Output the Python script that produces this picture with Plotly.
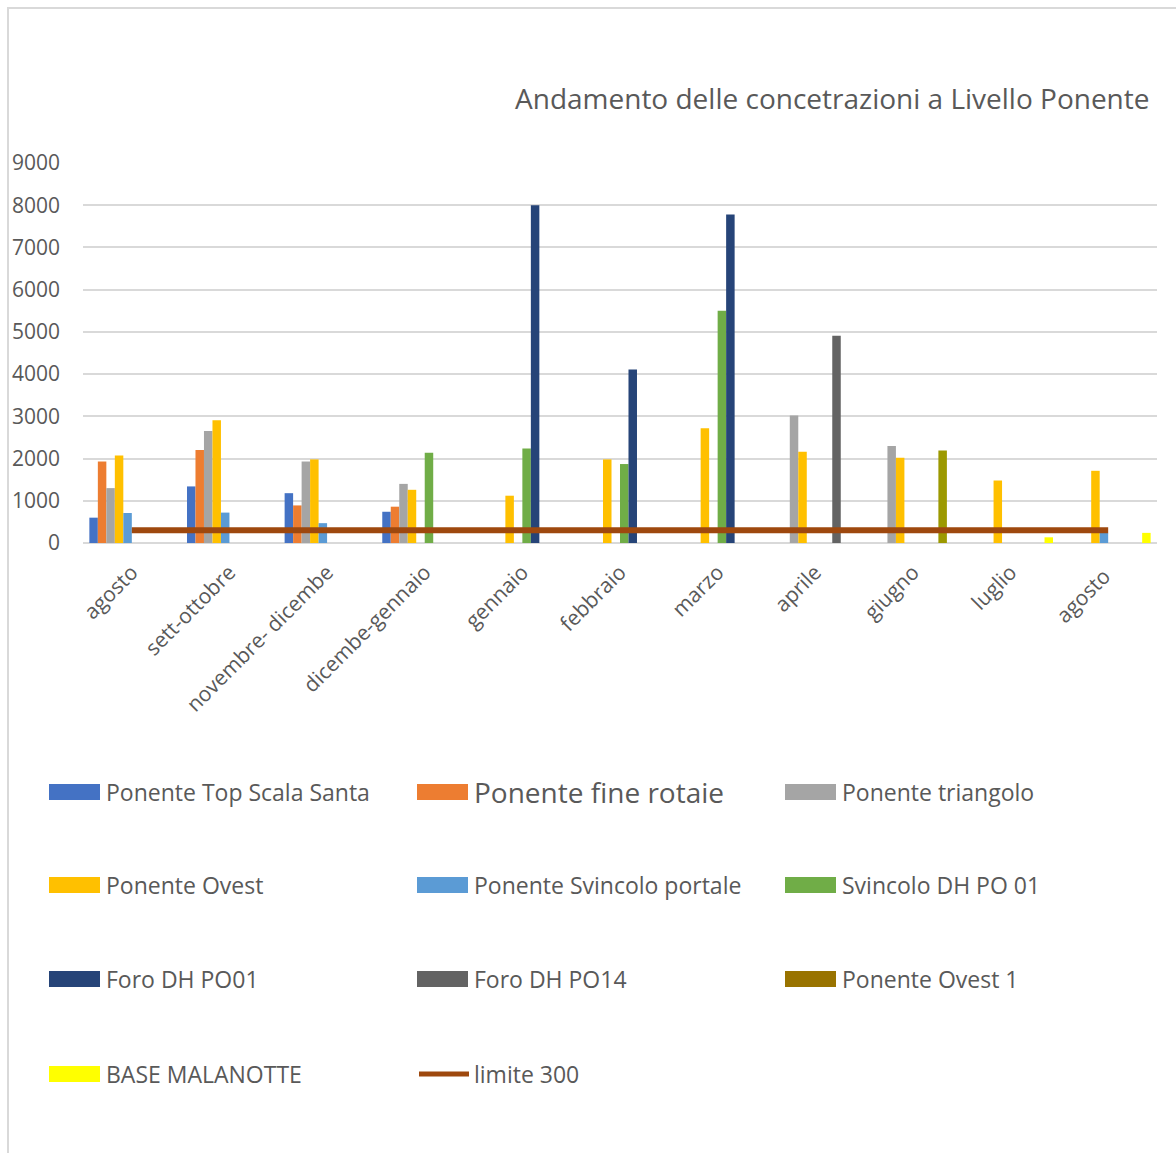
import plotly.graph_objects as go

# Categories (sampling periods)
categories = ["agosto", "sett-ottobre", "novembre- dicembe", "dicembe-gennaio",
              "gennaio", "febbraio", "marzo", "aprile", "giugno", "luglio", "agosto "]

# Concentrations per monitoring point (None = no measurement)
top_scala_santa = [600, 1340, 1180, 740, None, None, None, None, None, None, None]
fine_rotaie = [1930, 2200, 890, 860, None, None, None, None, None, None, None]
triangolo = [1300, 2650, 1930, 1400, None, None, None, 3020, 2300, None, None]
ovest = [2070, 2910, 1980, 1260, 1120, 1980, 2720, 2160, 2020, 1480, 1710]
svincolo_portale = [710, 720, 470, None, None, None, None, None, None, None, 240]
svincolo_dh_po01 = [None, None, None, 2140, 2240, 1870, 5500, None, None, None, None]
foro_dh_po01 = [None, None, None, None, 8000, 4110, 7780, None, None, None, None]
foro_dh_po14 = [None, None, None, None, None, None, None, 4910, None, None, None]
ovest_1 = [None, None, None, None, None, None, None, None, 2190, None, None]
base_malanotte = [None, None, None, None, None, None, None, None, None, 135, 240]
limite = [300] * len(categories)

series_names = ["Ponente Top Scala Santa", "Ponente fine rotaie", "Ponente triangolo",
                "Ponente Ovest", "Ponente Svincolo portale", "Svincolo DH PO 01",
                "Foro DH PO01", "Foro DH PO14", "Ponente Ovest 1", "BASE MALANOTTE"]
series_values = [top_scala_santa, fine_rotaie, triangolo, ovest, svincolo_portale,
                 svincolo_dh_po01, foro_dh_po01, foro_dh_po14, ovest_1, base_malanotte]
bar_colors = ["#4472C4", "#ED7D31", "#A5A5A5", "#FFC000", "#5B9BD5",
              "#70AD47", "#264478", "#636363", "#9C9900", "#FFFF00"]
swatch_colors = bar_colors[:8] + ["#997300", "#FFFF00"]
line_name = "limite 300"
line_color = "#9E480E"

yticks = list(range(0, 9001, 1000))

W, H = 1176, 1153
L, R, T, B = 83, 19, 163, 610
PW, PH = W - L - R, H - T - B
FONT = "Open Sans"
GREY = "#595959"


def fx(px):
    return (px - L) / PW


def fy(py):
    return (H - B - py) / PH


fig = go.Figure()
for name, vals, col in zip(series_names, series_values, bar_colors):
    fig.add_trace(go.Bar(x=categories, y=vals, name=name, marker_color=col,
                         marker_line_width=0, showlegend=False))
fig.add_trace(go.Scatter(x=categories, y=limite, name=line_name, mode="lines",
                         line=dict(color=line_color, width=6), showlegend=False))

shapes = []
annotations = []

# outer chart frame
shapes.append(dict(type="rect", xref="paper", yref="paper",
                   x0=fx(8), x1=fx(1190), y0=fy(1170), y1=fy(8),
                   line=dict(color="#D9D9D9", width=2), fillcolor="rgba(0,0,0,0)", layer="below"))

# title
annotations.append(dict(text="Andamento delle concetrazioni a Livello Ponente",
                        xref="paper", yref="paper", x=fx(1152), y=fy(98),
                        xanchor="right", yanchor="middle", showarrow=False,
                        font=dict(family=FONT, size=28, color=GREY)))

# legend grid: 3 columns x 4 rows
col_swatch = [49, 417, 785]
col_text = [104, 472, 840]
row_y = [792, 885, 979, 1074]
entries = list(zip(series_names, swatch_colors)) + [(line_name, None)]
for i, (name, col) in enumerate(entries):
    r, c = divmod(i, 3)
    yc = row_y[r]
    x0 = col_swatch[c]
    if col is None:
        shapes.append(dict(type="line", xref="paper", yref="paper",
                           x0=fx(x0 + 2), x1=fx(x0 + 52), y0=fy(yc), y1=fy(yc),
                           line=dict(color=line_color, width=5)))
    else:
        shapes.append(dict(type="rect", xref="paper", yref="paper",
                           x0=fx(x0), x1=fx(x0 + 51), y0=fy(yc + 8), y1=fy(yc - 8),
                           fillcolor=col, line=dict(width=0)))
    size = 28 if name == "Ponente fine rotaie" else 23
    annotations.append(dict(text=name, xref="paper", yref="paper",
                            x=fx(col_text[c]), y=fy(yc), xanchor="left", yanchor="middle",
                            showarrow=False, font=dict(family=FONT, size=size, color=GREY)))

fig.update_layout(
    width=W, height=H,
    margin=dict(l=L, r=R, t=T, b=B, autoexpand=False),
    paper_bgcolor="white", plot_bgcolor="white",
    barmode="group", bargap=0.13, bargroupgap=0,
    font=dict(family=FONT, size=21, color=GREY),
    shapes=shapes, annotations=annotations,
    showlegend=False,
)
fig.update_xaxes(tickangle=-45, showgrid=False, showline=False, ticks="",
                 tickfont=dict(family=FONT, size=21, color=GREY),
                 ticklabelstandoff=12, fixedrange=True)
fig.update_yaxes(range=[0, 9000], tickvals=yticks, showgrid=True, gridcolor="#D9D9D9",
                 gridwidth=2, zeroline=True, zerolinecolor="#D9D9D9", zerolinewidth=2,
                 showline=False, ticks="", tickfont=dict(family=FONT, size=21, color=GREY),
                 ticklabelstandoff=22, fixedrange=True)

fig.write_html("out.html")
